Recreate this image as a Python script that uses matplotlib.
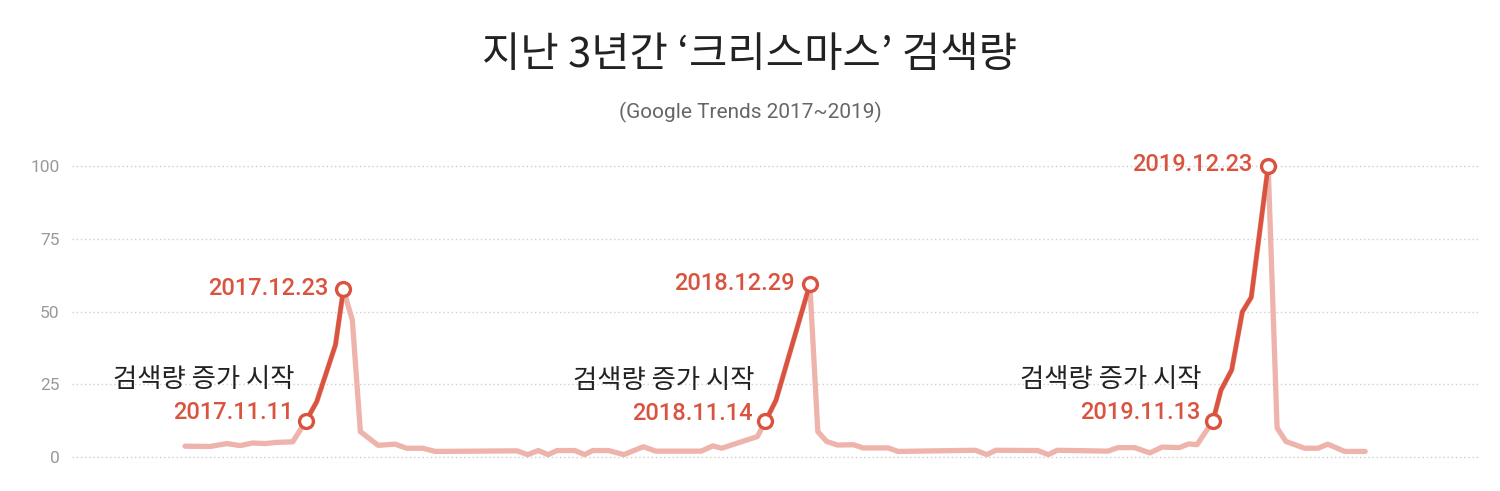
import matplotlib
matplotlib.use("Agg")
import matplotlib.pyplot as plt
import numpy as np

plt.rcParams['font.family'] = ['Roboto', 'Noto Sans CJK KR', 'DejaVu Sans']

# weekly position (weeks from start of series) and search interest (0-100)
weeks = [0, 2.8, 4.7, 6.2, 7.6, 9.0, 10.3, 12.1, 13.6, 14.8, 16.9, 17.8, 18.8, 19.7,
         21.7, 23.6, 24.9, 26.7, 28.1, 37.3, 38.5, 39.7, 40.8, 41.8, 43.8, 44.9, 45.8,
         47.6, 49.3, 51.5, 52.9, 58.0, 59.3, 60.3, 64.3, 65.2, 66.4, 70.2, 71.1, 72.1,
         73.3, 75.1, 76.2, 79.0, 80.1, 88.8, 90.1, 91.1, 95.8, 97.0, 98.0, 103.7,
         104.8, 106.7, 108.4, 109.8, 111.7, 112.8, 113.7, 115.5, 116.4, 117.6, 118.8,
         119.8, 121.7, 122.7, 123.7, 125.8, 127.3, 128.4, 130.3, 132.6]
interest = [3.7, 3.6, 4.6, 3.9, 4.8, 4.6, 5.0, 5.2, 12.4, 19, 38.5, 57.6, 47, 8.7,
            4.0, 4.4, 3.0, 3.0, 1.9, 2.1, 0.8, 2.2, 0.8, 2.2, 2.2, 0.8, 2.2,
            2.2, 0.8, 3.5, 2.0, 2.0, 3.8, 3.0, 7.0, 12.2, 19.5, 59.3, 8.7, 5.3,
            4.1, 4.2, 3.1, 3.1, 1.9, 2.3, 0.8, 2.3, 2.2, 0.8, 2.3, 2.0,
            3.2, 3.2, 1.4, 3.4, 3.2, 4.5, 4.2, 12.4, 23, 29.9, 49.9,
            54.9, 100, 10, 5.3, 3.0, 3.0, 4.4, 1.9, 1.9]

rise_start = [13.6, 65.2, 115.5]
rise_peak = [17.8, 70.2, 121.7]
start_labels = ['2017.11.11', '2018.11.14', '2019.11.13']
peak_labels = ['2017.12.23', '2018.12.29', '2019.12.23']
note = '검색량 증가 시작'

red = '#d9533f'
pink = '#eeb3ab'
kr = ['Noto Sans CJK KR', 'DejaVu Sans']

weeks = np.array(weeks)
interest = np.array(interest)

fig = plt.figure(figsize=(15, 4.91), dpi=100)
ax = fig.add_axes([72 / 1500, 1 - 471.5 / 491, 1408 / 1500, 320 / 491])

ax.plot(weeks, interest, color=pink, lw=3.8, solid_capstyle='round',
        solid_joinstyle='round', zorder=2)

for s, p, sl, pl in zip(rise_start, rise_peak, start_labels, peak_labels):
    m = (weeks >= s - 0.01) & (weeks <= p + 0.01)
    ax.plot(weeks[m], interest[m], color=red, lw=3.2, solid_joinstyle='round', zorder=3)
    ys = interest[np.argmin(abs(weeks - s))]
    yp = interest[np.argmin(abs(weeks - p))]
    ax.plot([s, p], [ys, yp], 'o', ms=10, mfc='white', mec=red, mew=2.4, zorder=4)
    ax.annotate(sl, (s, ys), xytext=(-9, 6), textcoords='offset points',
                ha='right', va='center', color=red, fontsize=17, weight='medium')
    ax.annotate(note, (s, ys), xytext=(-8, 29.5), textcoords='offset points',
                ha='right', va='center', color='#222222', fontsize=19,
                weight=500, family=kr)
    ax.annotate(pl, (p, yp), xytext=(-11, 1), textcoords='offset points',
                ha='right', va='center', color=red, fontsize=17, weight='medium')

ax.set_xlim(-12.7, 145.5)
ax.set_ylim(-5, 105)
ax.set_xticks([])
ax.set_yticks([0, 25, 50, 75, 100])
ax.tick_params(axis='y', length=0, pad=9, labelsize=12.5, labelcolor='#999999')
ax.grid(axis='y', color='#cfcfcf', lw=1, linestyle=(0, (1, 2)))
ax.set_axisbelow(True)
for sp in ax.spines.values():
    sp.set_visible(False)

fig.text(0.5, 1 - 55 / 491, '지난 3년간 ‘크리스마스’ 검색량', ha='center', va='center',
         fontsize=30, color='#222222', weight=500, family=kr)
fig.text(0.5, 1 - 112 / 491, '(Google Trends 2017~2019)', ha='center', va='center',
         fontsize=15, color='#666666')

fig.savefig('out.png', dpi=100, facecolor='white')
